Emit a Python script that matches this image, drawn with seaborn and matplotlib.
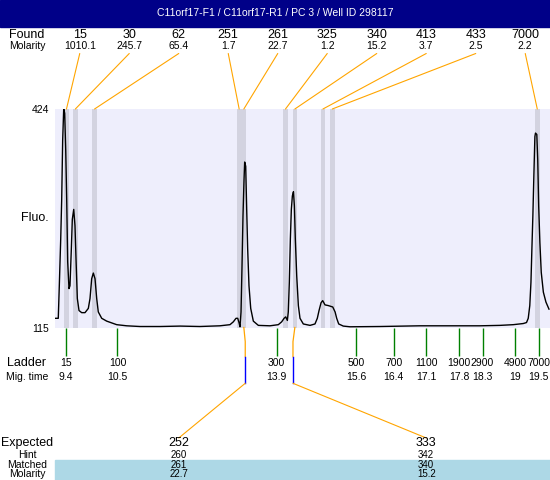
import numpy as np
import pandas as pd
import seaborn as sns
import matplotlib.pyplot as plt
import matplotlib.transforms as mtransforms
from matplotlib.patches import Rectangle

plt.rcParams['font.family'] = ['Liberation Sans', 'DejaVu Sans']

title = 'C11orf17-F1 / C11orf17-R1 / PC 3 / Well ID 298117'

# electropherogram trace: migration time (min) vs fluorescence
mig_time = [9.165, 9.235, 9.257, 9.287, 9.308, 9.329, 9.351, 9.372, 9.394, 9.415,
            9.436, 9.464, 9.485, 9.514, 9.535, 9.565, 9.592, 9.614, 9.642, 9.678,
            9.735, 9.806, 9.877, 9.913, 9.949, 9.984, 10.02, 10.056, 10.09, 10.163,
            10.27, 10.483, 10.697, 10.98, 11.41, 11.84, 12.26, 12.69, 12.904, 12.975,
            13.033, 13.069, 13.097, 13.118, 13.14, 13.161, 13.182, 13.204, 13.218, 13.24,
            13.261, 13.282, 13.31, 13.347, 13.403, 13.51, 13.759, 13.937, 14.008, 14.06,
            14.095, 14.13, 14.15, 14.172, 14.194, 14.215, 14.237, 14.26, 14.28, 14.3,
            14.33, 14.365, 14.4, 14.471, 14.614, 14.72, 14.77, 14.807, 14.85, 14.885,
            14.934, 15.005, 15.1, 15.15, 15.184, 15.227, 15.325, 15.468, 16.11, 16.96,
            17.82, 18.246, 18.67, 18.958, 19.17, 19.24, 19.277, 19.31, 19.335, 19.355,
            19.376, 19.397, 19.419, 19.432, 19.46, 19.48, 19.5, 19.526, 19.555, 19.6,
            19.655, 19.72]
fluo = [128, 128, 174, 240, 296, 380, 424, 418, 366, 296,
        208, 170, 174, 226, 268, 282, 259, 212, 156, 139,
        136, 136, 142, 156, 184, 192, 184, 156, 137, 128,
        124, 119, 117.4, 116.4, 116.4, 117, 116.4, 117.4, 119, 123,
        128, 128, 122, 116, 137, 202, 273, 324, 349, 343,
        282, 226, 174, 142, 124, 118, 117.4, 119, 123, 128,
        130, 125, 137, 179, 240, 282, 301, 307, 287, 240,
        188, 146, 128, 120, 118, 120, 128, 139, 150, 153,
        147, 146, 144, 137, 128, 120, 117, 116, 116.4, 117.4,
        117.4, 117.4, 118, 119, 120.6, 122, 128, 146, 179, 226,
        273, 329, 385, 390, 388, 352, 287, 235, 193, 165,
        151, 141]

# found peaks
found_size = [15, 30, 62, 251, 261, 325, 340, 413, 433, 7000]
found_molarity = ['1010.1', '245.7', '65.4', '1.7', '22.7', '1.2', '15.2', '3.7', '2.5', '2.2']
found_time = [9.41, 9.60, 10.01, 13.10, 13.20, 14.09, 14.29, 14.89, 15.09, 19.47]

# ladder
ladder_size = [15, 100, 300, 500, 700, 1100, 1900, 2900, 4900, 7000]
ladder_time = [9.4, 10.5, 13.9, 15.6, 16.4, 17.1, 17.8, 18.3, 19, 19.5]

# expected / matched
expected = [252, 333]
hint = [260, 342]
matched = [261, 340]
matched_molarity = ['22.7', '15.2']
matched_time = [13.20, 14.29]
hint_time = [13.23, 14.25]

W, H = 550, 480
def fx(x):
    return x / W
def fy(y):
    return 1 - y / H

TOP, BOT = 109, 327.5

fig = plt.figure(figsize=(5.5, 4.8), dpi=100)
fig.patch.set_facecolor('white')

# title bar
fig.add_artist(Rectangle((0, fy(26.7)), 1, 26.7 / H, transform=fig.transFigure,
                         color='#000088', zorder=0))
fig.text(0.5, fy(13.5), title, color='white', ha='center', va='center', fontsize=7.5)

# matched band at the bottom
fig.add_artist(Rectangle((fx(55), 0), fx(550) - fx(55), 20 / H, transform=fig.transFigure,
                         color='#ADD8E6', zorder=0))

ax = fig.add_axes([fx(55), fy(BOT), fx(550) - fx(55), fy(TOP) - fy(BOT)])
ax.set_facecolor('#EEEEFC')
for s in ax.spines.values():
    s.set_visible(False)

for t in found_time:
    ax.axvspan(t - 0.05, t + 0.05, color='#D3D3E0', lw=0, zorder=1)

sns.lineplot(x=mig_time, y=fluo, ax=ax, color='black', lw=1.0, zorder=3)
ax.set_xlim(9.165, 19.742)
ax.set_ylim(115, 424)
ax.set_xlabel('')
ax.set_ylabel('')

ax.set_yticks([115, 424])
ax.set_yticklabels(['115', '424'], fontsize=7.5)
ax.tick_params(axis='y', length=0, pad=4.5)
ax.set_xticks(ladder_time)
ax.set_xticklabels([''] * len(ladder_time))
ax.tick_params(axis='x', length=20.5, width=1, color='#008000', direction='out')

blend = mtransforms.blended_transform_factory(ax.transData, fig.transFigure)

# found row and connectors
n = len(found_size)
for i, t in enumerate(found_time):
    lx = 55 + (i + 0.5) * 495 / n
    fig.text(fx(lx), fy(34.5), str(found_size[i]), ha='center', va='center', fontsize=9)
    fig.text(fx(lx), fy(46), found_molarity[i], ha='center', va='center', fontsize=7.5)
    ax.annotate('', xy=(t, 1), xycoords=('data', 'axes fraction'),
                xytext=(fx(lx), fy(53.5)), textcoords='figure fraction',
                arrowprops=dict(arrowstyle='-', color='#FFA500', lw=0.8, shrinkA=0, shrinkB=0),
                annotation_clip=False)

# ladder labels
for s, t in zip(ladder_size, ladder_time):
    ax.text(t, fy(362.7), str(s), transform=blend, ha='center', va='center', fontsize=7.5)
    ax.text(t, fy(377.3), f'{t:g}', transform=blend, ha='center', va='center', fontsize=7.5)

# expected / matched connectors
m = len(expected)
for i in range(m):
    ex = 55 + (i + 0.5) * 495 / m
    ax.plot([matched_time[i], hint_time[i], hint_time[i]], [fy(BOT), fy(341.7), fy(356.7)],
            color='#FFA500', lw=0.9, transform=blend, clip_on=False)
    ax.plot([hint_time[i], hint_time[i]], [fy(356.7), fy(383.3)],
            color='#0000FF', lw=1.0, transform=blend, clip_on=False)
    ax.annotate('', xy=(hint_time[i], fy(383.3)), xycoords=blend,
                xytext=(fx(ex), fy(438)), textcoords='figure fraction',
                arrowprops=dict(arrowstyle='-', color='#FFA500', lw=0.8, shrinkA=0, shrinkB=0),
                annotation_clip=False)
    fig.text(fx(ex), fy(443.3), str(expected[i]), ha='center', va='center', fontsize=9)
    fig.text(fx(ex), fy(455), str(hint[i]), ha='center', va='center', fontsize=7)
    fig.text(fx(ex), fy(465), str(matched[i]), ha='center', va='center', fontsize=7)
    fig.text(fx(ex), fy(474), matched_molarity[i], ha='center', va='center', fontsize=7)

# row labels
row_labels = [('Found', 34.5, 9), ('Molarity', 46, 7.5), ('Ladder', 362.7, 9),
              ('Mig. time', 377.3, 7.5), ('Expected', 443.3, 9), ('Hint', 455, 7.5),
              ('Matched', 465, 7.5), ('Molarity', 474, 7.5)]
for txt, y, fs in row_labels:
    fig.text(fx(27), fy(y), txt, ha='center', va='center', fontsize=fs)
fig.text(fx(35), fy(218), 'Fluo.', ha='center', va='center', fontsize=9)

fig.savefig('out.png', dpi=100)
